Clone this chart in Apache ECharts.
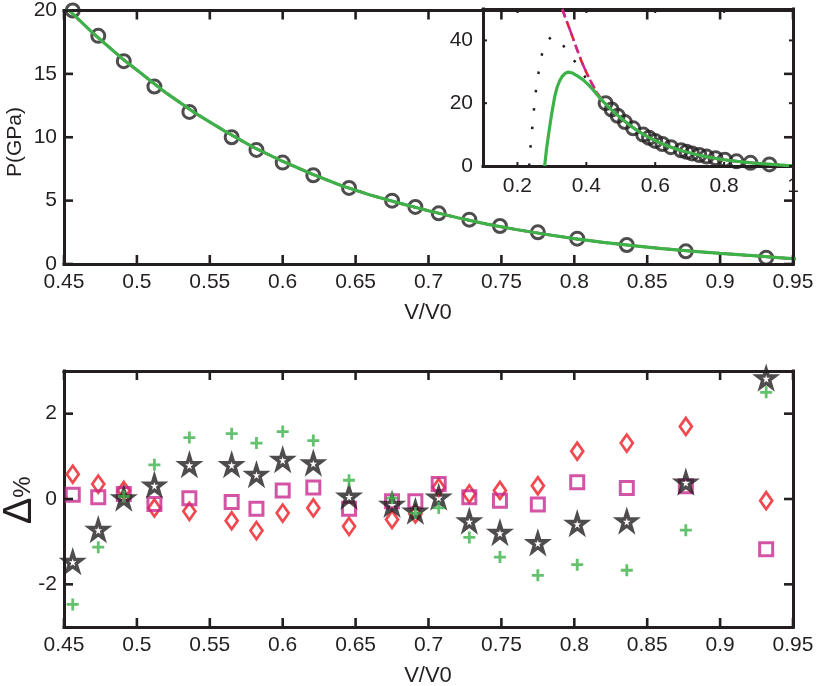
<!DOCTYPE html>
<html>
<head>
<meta charset="utf-8">
<script src="https://cdn.jsdelivr.net/npm/echarts@6/dist/echarts.min.js"></script>
<style>
html,body{margin:0;padding:0;background:#fff;}
#c{width:818px;height:686px;}
</style>
</head>
<body>
<div id="c"></div>
<script>
// ---------- data ----------
// experimental points: V/V0 and pressure (GPa)
const vExp = [0.456,0.4735,0.491,0.512,0.536,0.565,0.582,0.600,0.621,0.6455,0.675,0.691,0.707,0.728,0.749,0.775,0.802,0.836,0.8765,0.9316];
const pExp = [20,18,16,14,12,10,9,8,7,6,5,4.5,4,3.5,3,2.5,2,1.5,1,0.5];

// fitted curves, common part for V/V0 >= 0.45
const fitHighV = [0.45,0.46,0.47,0.48,0.49,0.50,0.52,0.54,0.56,0.58,0.60,0.62,0.64,0.66,0.68,0.70,0.72,0.74,0.76,0.78,0.80,0.82,0.84,0.86,0.88,0.90,0.92,0.94,0.96,0.98,1.00];
const fitHighP = [20.4,19.3,18.2,17.2,16.2,15.3,13.5,11.9,10.5,9.2,8.1,7.1,6.2,5.45,4.8,4.2,3.65,3.15,2.72,2.35,2.0,1.7,1.45,1.22,1.02,0.84,0.68,0.5,0.33,0.18,0.06];

// low-volume branches (seen in the inset)
const greenLowV = [0.279,0.284,0.289,0.295,0.300,0.308,0.315,0.322,0.330,0.340,0.348,0.360,0.375,0.390,0.405,0.420,0.435];
const greenLowP = [0,5,9,13.5,17,22,25,27,28.6,29.6,29.9,29.6,28.6,27.5,26,24.2,22.2];
const redLowV = [0.330,0.340,0.355,0.370,0.385,0.400,0.415,0.430,0.440];
const redLowP = [50,47,42.6,38,33.6,29.8,26.5,23.5,21.9];
const magLowV = [0.330,0.340,0.355,0.370,0.385,0.400,0.415,0.430,0.440];
const magLowP = [50,47,42.6,38,33.6,29.8,26.5,23.5,21.9];
const dotLowV = [0.234,0.238,0.243,0.248,0.254,0.262,0.272,0.285,0.300,0.315,0.330,0.345,0.360,0.377,0.390,0.404,0.420,0.435];
const dotLowP = [0,6,12,18,24.4,30.3,36,39.8,41.2,40.6,38.8,36.5,34.2,31.8,29.5,27,24.4,22.2];

// deviations (%) in the lower panel
const devDiamond = [0.58,0.35,0.2,-0.21,-0.29,-0.51,-0.74,-0.33,-0.21,-0.64,-0.48,-0.35,0.27,0.12,0.2,0.31,1.12,1.31,1.7,-0.04];
const devSquare  = [0.1,0.04,0.12,-0.12,0.02,-0.07,-0.23,0.2,0.27,-0.23,-0.05,-0.05,0.35,0.04,-0.04,-0.13,0.39,0.26,0.3,-1.18];
const devStar    = [-1.47,-0.72,0.02,0.32,0.8,0.8,0.57,0.92,0.84,0.06,-0.13,-0.29,0.04,-0.52,-0.79,-1.03,-0.58,-0.52,0.39,2.83];
const devPlus    = [-2.47,-1.13,0.06,0.8,1.44,1.53,1.31,1.58,1.37,0.44,0.02,-0.33,-0.21,-0.9,-1.36,-1.79,-1.54,-1.67,-0.73,2.5];

// ticks
const xTicksMain = [0.45,0.5,0.55,0.6,0.65,0.7,0.75,0.8,0.85,0.9,0.95];
const yTicksTop = [0,5,10,15,20];
const xTicksInset = [0.2,0.4,0.6,0.8,1];
const yTicksInset = [0,20,40];
const yTicksLow = [-2,0,2];

// ---------- helpers ----------
const pairs = (xs, ys) => xs.map((x, i) => [x, ys[i]]);
const FONT = "'Liberation Sans', Arial, Helvetica, sans-serif";
const INK = '#231f20';
const RED = '#ec1c24', MAG = '#c8288f', GRN = '#3db249';

function axis(pos, gridIndex, min, max, ticks, opts) {
  opts = opts || {};
  const showLabel = !opts.mirror;
  return {
    type: 'value', gridIndex, position: pos, min, max,
    axisLine: { show: true, onZero: false, lineStyle: { color: INK, width: 3, cap: 'square' } },
    splitLine: { show: false },
    axisTick: { show: false },
    axisLabel: { show: showLabel, customValues: ticks, color: INK, fontFamily: FONT,
                 fontSize: opts.fontSize || 21, margin: opts.margin || 8,
                 formatter: v => String(+v.toFixed(2)) }
  };
}

// inward tick marks on both opposite sides of a grid, placed through the axis scale
function tickSeries(xi, yi, dir, ticks, ref, len, w) {
  return {
    type: 'custom', xAxisIndex: xi, yAxisIndex: yi, z: 20, silent: true, clip: false,
    data: ticks.map(v => dir === 'x' ? [v, ref] : [ref, v]),
    renderItem: (params, api) => {
      const cs = params.coordSys;
      const p = api.coord([api.value(0), api.value(1)]);
      const st = { stroke: INK, lineWidth: w };
      if (dir === 'x') {
        const b = cs.y + cs.height, t = cs.y;
        return { type: 'group', children: [
          { type: 'line', shape: { x1: p[0], y1: b, x2: p[0], y2: b - len }, style: st },
          { type: 'line', shape: { x1: p[0], y1: t, x2: p[0], y2: t + len }, style: st }
        ] };
      }
      const l = cs.x, r = cs.x + cs.width;
      return { type: 'group', children: [
        { type: 'line', shape: { x1: l, y1: p[1], x2: l + len, y2: p[1] }, style: st },
        { type: 'line', shape: { x1: r, y1: p[1], x2: r - len, y2: p[1] }, style: st }
      ] };
    }
  };
}

const symStar = 'path://M50,2 L61,36 L97,36 L68,57 L79,92 L50,71 L21,92 L32,57 L3,36 L39,36 Z';
const symPlus = 'path://M5,0 L5,10 M0,5 L10,5';

const greenAll = pairs(greenLowV.concat(fitHighV), greenLowP.concat(fitHighP));
const redAll = pairs(redLowV.concat(fitHighV), redLowP.concat(fitHighP));
const magAll = pairs(magLowV.concat(fitHighV), magLowP.concat(fitHighP));
const dotAll = pairs(dotLowV.concat(fitHighV), dotLowP.concat(fitHighP));
const expPts = pairs(vExp, pExp);

function curveSeries(xi, yi) {
  return [
    { type: 'line', xAxisIndex: xi, yAxisIndex: yi, data: dotAll, showSymbol: false, z: 3, clip: true,
      lineStyle: { color: INK, width: 2.5, type: [2.5, 16] } },
    { type: 'line', xAxisIndex: xi, yAxisIndex: yi, data: redAll, showSymbol: false, z: 4, clip: true,
      lineStyle: { color: RED, width: 2.5, type: [8, 5] } },
    { type: 'line', xAxisIndex: xi, yAxisIndex: yi, data: magAll, showSymbol: false, z: 5, clip: true,
      lineStyle: { color: MAG, width: 2.5, type: [9, 4, 2, 4] } },
    { type: 'line', xAxisIndex: xi, yAxisIndex: yi, data: greenAll, showSymbol: false, z: 6, clip: true,
      lineStyle: { color: GRN, width: 3.2 } }
  ];
}

const hollow = (c, w) => ({ color: 'rgba(0,0,0,0)', borderColor: c, borderWidth: w });

const option = {
  animation: false,
  backgroundColor: '#fff',
  grid: [
    { left: 64, top: 9, width: 729, height: 255 },
    { left: 483, top: 9, width: 310, height: 157, show: true, backgroundColor: '#fff', borderWidth: 0 },
    { left: 64, top: 371, width: 729, height: 256 }
  ],
  xAxis: [
    axis('bottom', 0, 0.45, 0.95, xTicksMain),
    axis('top', 0, 0.45, 0.95, xTicksMain, { mirror: true }),
    axis('bottom', 1, 0.1, 1, xTicksInset, { margin: 10 }),
    axis('top', 1, 0.1, 1, xTicksInset, { mirror: true }),
    axis('bottom', 2, 0.45, 0.95, xTicksMain),
    axis('top', 2, 0.45, 0.95, xTicksMain, { mirror: true })
  ],
  yAxis: [
    axis('left', 0, 0, 20, yTicksTop, { margin: 7 }),
    axis('right', 0, 0, 20, yTicksTop, { mirror: true }),
    axis('left', 1, 0, 50, yTicksInset, { margin: 10 }),
    axis('right', 1, 0, 50, yTicksInset, { mirror: true }),
    axis('left', 2, -3, 3, yTicksLow, { margin: 7 }),
    axis('right', 2, -3, 3, yTicksLow, { mirror: true })
  ],
  series: [
    { type: 'scatter', xAxisIndex: 0, yAxisIndex: 0, data: expPts, symbol: 'circle', symbolSize: 13, z: 2,
      itemStyle: hollow(INK, 3) },
    ...curveSeries(0, 0),
    { type: 'scatter', xAxisIndex: 2, yAxisIndex: 2, data: expPts, symbol: 'circle', symbolSize: 13, z: 2,
      itemStyle: hollow(INK, 3) },
    ...curveSeries(2, 2),
    { type: 'scatter', xAxisIndex: 4, yAxisIndex: 4, data: pairs(vExp, devDiamond), symbol: 'diamond', symbolSize: [12, 17], z: 2,
      itemStyle: hollow(RED, 2.8) },
    { type: 'scatter', xAxisIndex: 4, yAxisIndex: 4, data: pairs(vExp, devSquare), symbol: 'rect', symbolSize: 13, z: 3,
      itemStyle: hollow(MAG, 3) },
    { type: 'scatter', xAxisIndex: 4, yAxisIndex: 4, data: pairs(vExp, devStar), symbol: symStar, symbolSize: 18, z: 4,
      itemStyle: hollow(INK, 3.4) },
    { type: 'scatter', xAxisIndex: 4, yAxisIndex: 4, data: pairs(vExp, devPlus), symbol: symPlus, symbolSize: 12, z: 5,
      itemStyle: hollow(GRN, 2.8) },
    tickSeries(0, 0, 'x', xTicksMain, 0, 9, 2.6),
    tickSeries(0, 0, 'y', yTicksTop, 0.45, 9, 2.6),
    tickSeries(2, 2, 'x', xTicksInset, 0, 4, 2),
    tickSeries(2, 2, 'y', yTicksInset, 0.1, 4, 2),
    tickSeries(4, 4, 'x', xTicksMain, -3, 9, 2.6),
    tickSeries(4, 4, 'y', yTicksLow, 0.45, 9, 2.6)
  ],
  graphic: [
    { type: 'text', x: 15, y: 142, rotation: Math.PI / 2,
      style: { text: 'P(GPa)', fill: INK, font: '21px ' + FONT, align: 'center', verticalAlign: 'middle' } },
    { type: 'text', x: 428, y: 313,
      style: { text: 'V/V0', fill: INK, font: '22px ' + FONT, align: 'center', verticalAlign: 'middle' } },
    { type: 'text', x: 20, y: 511, rotation: Math.PI / 2,
      style: { text: 'Δ', fill: INK, font: '40px ' + FONT, align: 'center', verticalAlign: 'middle' } },
    { type: 'text', x: 23, y: 487, rotation: Math.PI / 2,
      style: { text: '%', fill: INK, font: '24px ' + FONT, align: 'center', verticalAlign: 'middle' } },
    { type: 'text', x: 428, y: 676,
      style: { text: 'V/V0', fill: INK, font: '22px ' + FONT, align: 'center', verticalAlign: 'middle' } }
  ]
};

const chart = echarts.init(document.getElementById('c'), null, { renderer: 'canvas' });
chart.setOption(option);
</script>
</body>
</html>
